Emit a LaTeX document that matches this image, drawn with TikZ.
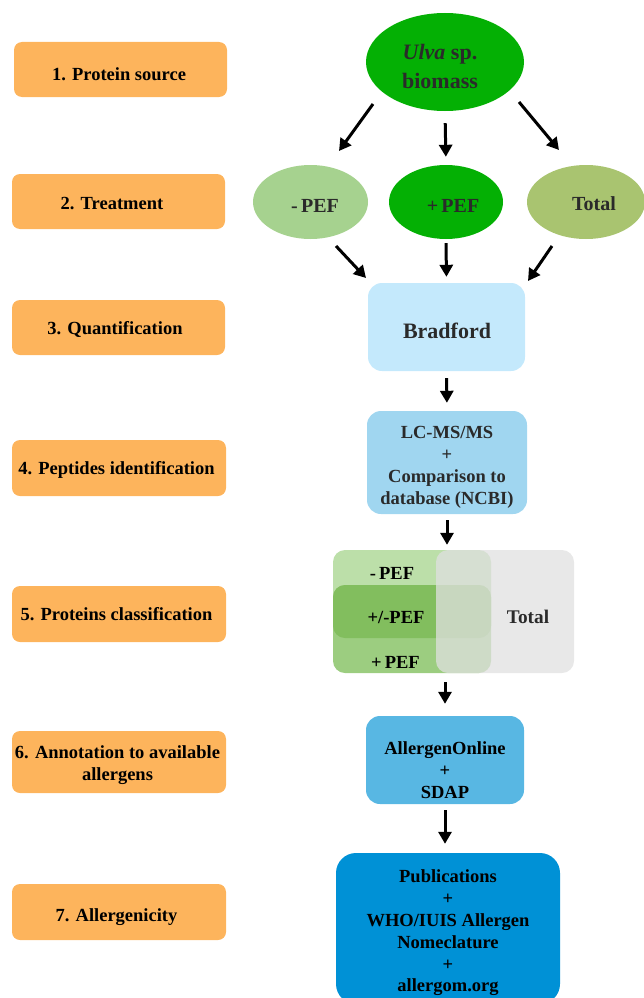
\documentclass[tikz,border=0pt]{standalone}
\usepackage{fontspec}
\setmainfont{Liberation Serif}
\usetikzlibrary{arrows.meta,shapes.geometric}
\definecolor{orng}{HTML}{FDB45C}
\definecolor{ugreen}{HTML}{04B004}
\definecolor{lgreen}{HTML}{A6D28F}
\definecolor{olive}{HTML}{A9C470}
\definecolor{bradc}{HTML}{C4E9FC}
\definecolor{lcc}{HTML}{A0D6F0}
\definecolor{allgc}{HTML}{58B7E3}
\definecolor{pubc}{HTML}{0091D6}
\definecolor{vlight}{HTML}{BCDFA9}
\definecolor{vmed}{HTML}{9CCD80}
\definecolor{vdark}{HTML}{82BE5E}
\definecolor{vgray}{HTML}{E0E0E0}
\definecolor{dtext}{HTML}{2A2A2A}
\begin{document}
\begin{tikzpicture}[x=1pt,y=-1pt,
  stage/.style={rectangle, rounded corners=8pt, fill=orng, minimum width=213pt, minimum height=55pt, inner sep=0pt},
  lbl/.style={font=\fontsize{18.5}{22}\selectfont\bfseries, align=center, text=black, inner sep=0pt},
  elab/.style={font=\fontsize{20}{24}\selectfont\bfseries, text=dtext, inner sep=0pt},
  oval/.style={ellipse, inner sep=0pt},
  rbox/.style={rectangle, rounded corners=14pt, inner sep=0pt},
  vbox/.style={rectangle, rounded corners=12pt, inner sep=0pt, minimum width=158pt},
  arr/.style={-{Triangle[length=12pt,width=13pt]}, line width=3pt, black}
]
\useasboundingbox (0,0) rectangle (644,998);
\clip (0,0) rectangle (644,998);

% left stage boxes
\node[stage, minimum width=213pt] (s1) at (120.5,69.5) {};
\node[stage] (s2) at (118.5,201.5) {};
\node[stage] (s3) at (118.5,327.5) {};
\node[stage, minimum width=214pt, minimum height=56pt] (s4) at (119,468) {};
\node[stage, minimum width=214pt, minimum height=56pt] (s5) at (119,614) {};
\node[stage, minimum width=214pt, minimum height=62pt] (s6) at (119,762) {};
\node[stage, minimum width=214pt, minimum height=56pt] (s7) at (119,912) {};
\node[lbl, anchor=base] (l1) at (119,81) {1. Protein source};
\node[lbl, anchor=base] (l2) at (112,209) {2. Treatment};
\node[lbl, anchor=base] (l3) at (115,334) {3. Quantification};
\node[lbl, anchor=base] (l4) at (116.5,474) {4. Peptides identification};
\node[lbl, anchor=base] (l5) at (116.5,620) {5. Proteins classification};
\node[lbl] (l6) at (117.5,765) {6. Annotation to available\\allergens};
\node[lbl, anchor=base] (l7) at (116.5,921) {7. Allergenicity};

% protein source
\node[oval, fill=ugreen, minimum width=158pt, minimum height=98pt] (ulva) at (445,62) {};
\node[font=\fontsize{22}{29}\selectfont\bfseries, text=dtext, align=center, inner sep=0pt] (ulvat) at (440,66) {\textit{Ulva} sp.\\biomass};

% treatments
\node[oval, fill=lgreen, minimum width=115pt, minimum height=74pt] (mpef) at (310.5,202) {};
\node[oval, fill=ugreen, minimum width=114pt, minimum height=74pt] (ppef) at (446,202) {};
\node[oval, fill=olive, minimum width=118pt, minimum height=74pt] (tot) at (586,202) {};
\node[elab, anchor=base] (mpeft) at (315,212) {-\,PEF};
\node[elab, anchor=base] (ppeft) at (453,212) {+\,PEF};
\node[elab, anchor=base] (tott) at (594,210) {Total};

% Bradford
\node[rbox, fill=bradc, minimum width=157pt, minimum height=88pt] (brad) at (446.5,327) {};
\node[font=\fontsize{22}{26}\selectfont\bfseries, text=dtext, inner sep=0pt, anchor=base] (bradt) at (447,338) {Bradford};

% LC-MS/MS
\node[rbox, fill=lcc, minimum width=160pt, minimum height=103pt] (lc) at (447,462.5) {};
\node[lbl, text=dtext] (lct) at (447,467) {LC-MS/MS\\+\\Comparison to\\database (NCBI)};

% Venn classification
\node[vbox, fill=vlight, minimum height=88pt] (vmin) at (412,594) {};
\node[vbox, fill=vmed, minimum height=88pt] (vplus) at (412,629) {};
\node[vbox, fill=vdark, minimum height=53pt] (vboth) at (412,611.5) {};
\node[vbox, fill=vgray, fill opacity=0.75, minimum width=138pt, minimum height=123pt] (vtot) at (505,611.5) {};
\node[lbl, anchor=base] (vmint) at (392,579) {-\,PEF};
\node[lbl, anchor=base] (vboth t) at (396,623) {+/-PEF};
\node[lbl, anchor=base] (vplust) at (395.5,668) {+\,PEF};
\node[lbl, anchor=base, text=dtext, font=\fontsize{19.3}{22}\selectfont\bfseries] (vtott) at (528,623) {Total};

% AllergenOnline
\node[rbox, fill=allgc, minimum width=158pt, minimum height=88pt] (allg) at (445,760) {};
\node[lbl] (allgt) at (445,770) {AllergenOnline\\+\\SDAP};

% Allergenicity
\node[rbox, rounded corners=20pt, fill=pubc, minimum width=224pt, minimum height=151pt] (pub) at (448,928.5) {};
\node[lbl, font=\fontsize{18.5}{21.8}\selectfont\bfseries] (pubt) at (448,933) {Publications\\+\\WHO/IUIS Allergen\\Nomeclature\\+\\allergom.org};

% arrows
\coordinate (a1s) at (373,104); \coordinate (a1e) at (339,151);
\coordinate (a3s) at (519,102); \coordinate (a3e) at (559,150);
\coordinate (b1s) at (336,246); \coordinate (b1e) at (366,278);
\coordinate (b3s) at (552,246); \coordinate (b3e) at (528,281);
\draw[arr] (a1s) -- (a1e);
\draw[arr] (a3s) -- (a3e);
\draw[arr, shorten <=12pt, shorten >=8pt] (ulva.south) -- (ppef.north);
\draw[arr] (b1s) -- (b1e);
\draw[arr] (b3s) -- (b3e);
\draw[arr, shorten <=4pt, shorten >=6pt] (ppef.south) -- (brad.north);
\draw[arr, shorten <=7pt, shorten >=8pt] (brad.south) -- (lc.north);
\draw[arr, shorten <=6pt, shorten >=5pt] (lc.south) -- (lc.south |- vtot.north);
\draw[arr, shorten <=9pt, shorten >=12pt] (vplus.south -| allg.north) -- (allg.north);
\draw[arr, shorten <=6pt, shorten >=9pt] (allg.south) -- (allg.south |- pub.north);
\end{tikzpicture}
\end{document}
